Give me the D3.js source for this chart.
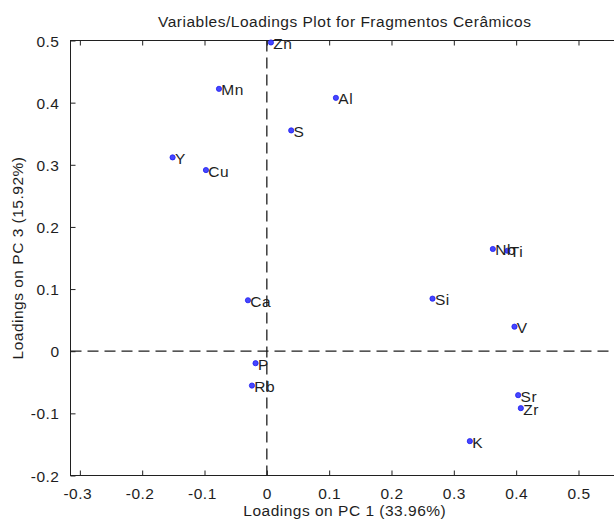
<!DOCTYPE html>
<html>
<head>
<meta charset="utf-8">
<script src="https://cdn.jsdelivr.net/npm/d3@7"></script>
<style>
  html, body { margin: 0; padding: 0; background: #fff; }
  svg { display: block; }
  text { font-family: "Liberation Sans", Arial, Helvetica, sans-serif; fill: #1e1e1e; letter-spacing: 0.5px; }
</style>
</head>
<body>
<svg id="chart" width="614" height="521"></svg>
<script>
// Loadings of each element on principal components 1 and 3
const elements = ["Zn", "Mn", "Al", "S", "Y", "Cu", "Nb", "Ti", "Si", "V", "Ca", "P", "Rb", "Sr", "Zr", "K"];
const pc1 = [0.0066, -0.0768, 0.1108, 0.0391, -0.1512, -0.0977, 0.3626, 0.3860, 0.2658, 0.3973, -0.0303, -0.0181, -0.0239, 0.4032, 0.4075, 0.3257];
const pc3 = [0.4968, 0.4222, 0.4077, 0.3553, 0.3119, 0.2915, 0.1645, 0.1617, 0.0846, 0.0395, 0.0820, -0.0193, -0.0553, -0.0707, -0.0916, -0.1447];

const xTicks = [-0.3, -0.2, -0.1, 0, 0.1, 0.2, 0.3, 0.4, 0.5];
const xTickLabels = ["-0.3", "-0.2", "-0.1", "0", "0.1", "0.2", "0.3", "0.4", "0.5"];
const yTicks = [-0.2, -0.1, 0, 0.1, 0.2, 0.3, 0.4, 0.5];
const yTickLabels = ["-0.2", "-0.1", "0", "0.1", "0.2", "0.3", "0.4", "0.5"];

const titleText = "Variables/Loadings Plot for Fragmentos Cerâmicos";
const xLabelText = "Loadings on PC 1 (33.96%)";
const yLabelText = "Loadings on PC 3 (15.92%)";

const svg = d3.select("#chart");
const fontSize = 15.5;
const plotL = 70.5, plotR = 619, plotT = 40.5, plotB = 475.5;

const x = d3.scaleLinear().domain([-0.315, 0.565]).range([plotL, plotR]);
const y = d3.scaleLinear().domain([-0.2, 0.5]).range([plotB, plotT]);

const tickLen = 5;
const axisColor = "#202020";

// Bottom axis: inward ticks, labels below
const bottomAxis = d3.axisBottom(x)
  .tickValues(xTicks)
  .tickFormat((d, i) => xTickLabels[i])
  .tickSizeInner(-tickLen).tickSizeOuter(0).tickPadding(12);
const gB = svg.append("g").attr("transform", `translate(0,${plotB})`).call(bottomAxis);
gB.select(".domain").remove();
gB.selectAll(".tick line").attr("stroke", axisColor);
gB.selectAll(".tick text")
  .attr("fill", "#1e1e1e")
  .style("font-size", fontSize + "px")
  .attr("font-family", null)
  .attr("dx", (d, i) => xTickLabels[i].startsWith("-") ? -2.6 : 0);

// Top axis: inward ticks only
const topAxis = d3.axisTop(x).tickValues(xTicks).tickFormat("")
  .tickSizeInner(-tickLen).tickSizeOuter(0);
const gT = svg.append("g").attr("transform", `translate(0,${plotT})`).call(topAxis);
gT.select(".domain").remove();
gT.selectAll(".tick line").attr("stroke", axisColor);

// Left axis: inward ticks, labels to the left
const leftAxis = d3.axisLeft(y)
  .tickValues(yTicks)
  .tickFormat((d, i) => yTickLabels[i])
  .tickSizeInner(-tickLen).tickSizeOuter(0).tickPadding(11);
const gL = svg.append("g").attr("transform", `translate(${plotL},0)`).call(leftAxis);
gL.select(".domain").remove();
gL.selectAll(".tick line").attr("stroke", axisColor);
gL.selectAll(".tick text")
  .attr("fill", "#1e1e1e")
  .style("font-size", fontSize + "px")
  .attr("font-family", null)
  .attr("dy", "0.36em");

// Right axis: inward ticks only
const rightAxis = d3.axisRight(y).tickValues(yTicks).tickFormat("")
  .tickSizeInner(-tickLen).tickSizeOuter(0);
const gR = svg.append("g").attr("transform", `translate(${plotR},0)`).call(rightAxis);
gR.select(".domain").remove();
gR.selectAll(".tick line").attr("stroke", axisColor);

// Axes box
svg.append("rect")
  .attr("x", plotL).attr("y", plotT)
  .attr("width", plotR - plotL).attr("height", plotB - plotT)
  .attr("fill", "none").attr("stroke", axisColor).attr("stroke-width", 1);

// Dashed reference lines through the origin
svg.append("line")
  .attr("x1", x(0)).attr("x2", x(0)).attr("y1", plotT).attr("y2", plotB)
  .attr("stroke", "#1e1e1e").attr("stroke-width", 1.3).attr("stroke-dasharray", "11,6");
svg.append("line")
  .attr("x1", plotL).attr("x2", plotR).attr("y1", y(0)).attr("y2", y(0))
  .attr("stroke", "#1e1e1e").attr("stroke-width", 1.3).attr("stroke-dasharray", "11,6");

// Points and element labels
const pts = elements.map((name, i) => ({ name, v1: pc1[i], v3: pc3[i] }));
const g = svg.append("g");
g.selectAll("circle").data(pts).join("circle")
  .attr("cx", d => x(d.v1)).attr("cy", d => y(d.v3))
  .attr("r", 2.6)
  .attr("fill", "#4646ff").attr("stroke", "#2020f0").attr("stroke-width", 0.8);
g.selectAll("text").data(pts).join("text")
  .attr("x", d => x(d.v1) + 2.4)
  .attr("y", d => y(d.v3) + 6.5)
  .style("font-size", fontSize + "px")
  .text(d => d.name);

// Title and axis labels
const cx = (plotL + plotR) / 2;
svg.append("text").attr("x", cx).attr("y", 27).attr("text-anchor", "middle")
  .style("font-size", fontSize + "px").text(titleText);
svg.append("text").attr("x", cx).attr("y", 516).attr("text-anchor", "middle")
  .style("font-size", fontSize + "px").text(xLabelText);
svg.append("text").attr("transform", `translate(23,${(plotT + plotB) / 2}) rotate(-90)`)
  .attr("text-anchor", "middle")
  .style("font-size", fontSize + "px").text(yLabelText);
</script>
</body>
</html>
